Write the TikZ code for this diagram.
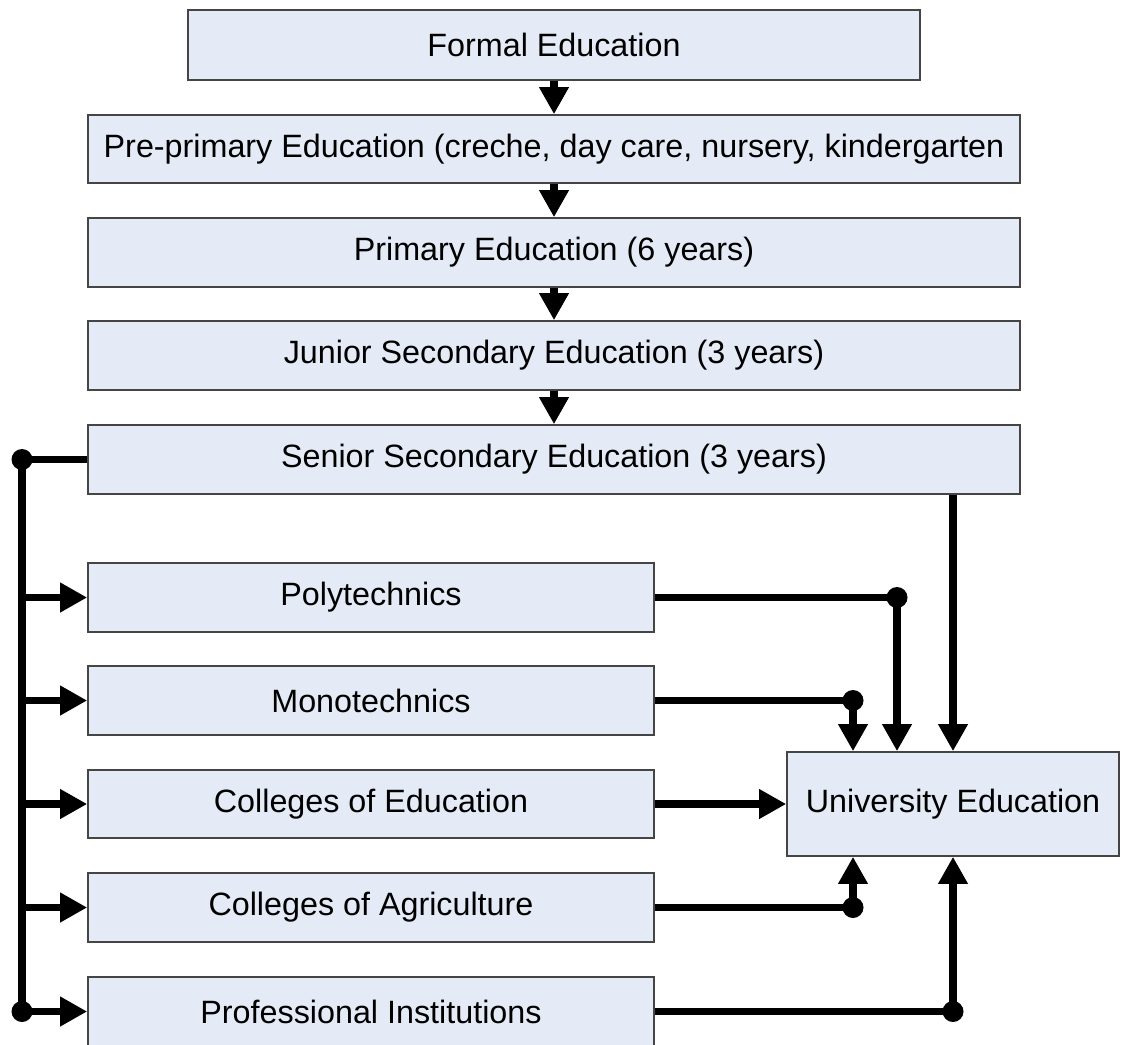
\documentclass[tikz,border=0pt]{standalone}
\usepackage{fontspec}
\setmainfont{Liberation Sans}
\usetikzlibrary{arrows.meta}
\definecolor{boxfill}{HTML}{E4EBF6}
\definecolor{boxline}{HTML}{454545}
\begin{document}
\begin{tikzpicture}[x=1pt,y=-1pt,
  box/.style={draw=boxline, line width=1.6pt, fill=boxfill, inner sep=0pt,
    font=\fontsize{32.3}{39}\selectfont, anchor=center},
  wide/.style={box, minimum width=932pt, minimum height=69pt},
  side/.style={box, minimum width=566pt, minimum height=69pt},
  conn/.style={line width=7.5pt, black},
  arr/.style={conn, -{Triangle[width=28pt,length=27pt]}},
  dot/.style={fill=black}
]
\useasboundingbox (0,0) rectangle (1121,1044);

% main chain
\node[box, minimum width=732pt, minimum height=70pt] (formal) at (554,45) {Formal Education};
\node[wide, minimum height=68pt] (pre) at (554,149) {Pre-primary Education (creche, day care, nursery, kindergarten};
\node[wide] (primary) at (554,252.5) {Primary Education (6 years)};
\node[wide] (junior) at (554,355.5) {Junior Secondary Education (3 years)};
\node[wide] (senior) at (554,459.5) {Senior Secondary Education (3 years)};

% tertiary branches
\node[side] (poly) at (371,597.5) {Polytechnics};
\node[side] (mono) at (371,700.5) {Monotechnics};
\node[side, minimum height=68pt] (coledu) at (371,804) {Colleges of Education};
\node[side] (colagr) at (371,907.5) {Colleges of Agriculture};
\node[side] (prof) at (371,1011.5) {Professional Institutions};

\node[box, minimum width=332pt, minimum height=104pt] (univ) at (953,804) {University Education};

% arrows down the main chain
\draw[arr] (formal) -- (pre);
\draw[arr] (pre) -- (primary);
\draw[arr] (primary) -- (junior);
\draw[arr] (junior) -- (senior);

% left trunk feeding the tertiary branches
\coordinate (ltop) at (22,459.5);
\coordinate (lbot) at (22,1011.5);
\draw[conn] (senior.west) -- (ltop) -- (lbot);
\foreach \n in {poly,mono,coledu,colagr,prof}
  \draw[arr] (ltop |- \n.west) -- (\n.west);
\fill[dot] (ltop) circle (10.5pt);
\fill[dot] (lbot) circle (10.5pt);

% routes into university education
\coordinate (pj) at (897,597.5);
\coordinate (mj) at (853,700.5);
\coordinate (aj) at (853,907.5);
\coordinate (rj) at (953,1011.5);
\draw[conn] (poly.east) -- (pj);
\draw[arr] (pj) -- (pj |- univ.north);
\draw[conn] (mono.east) -- (mj);
\draw[arr] (mj) -- (mj |- univ.north);
\draw[arr] (senior.south -| univ.north) -- (univ.north);
\draw[arr] (coledu.east) -- (univ.west);
\draw[conn] (colagr.east) -- (aj);
\draw[arr] (aj) -- (aj |- univ.south);
\draw[conn] (prof.east) -- (rj);
\draw[arr] (rj) -- (univ.south);
\foreach \c in {pj,mj,aj,rj}
  \fill[dot] (\c) circle (10.5pt);
\end{tikzpicture}
\end{document}
